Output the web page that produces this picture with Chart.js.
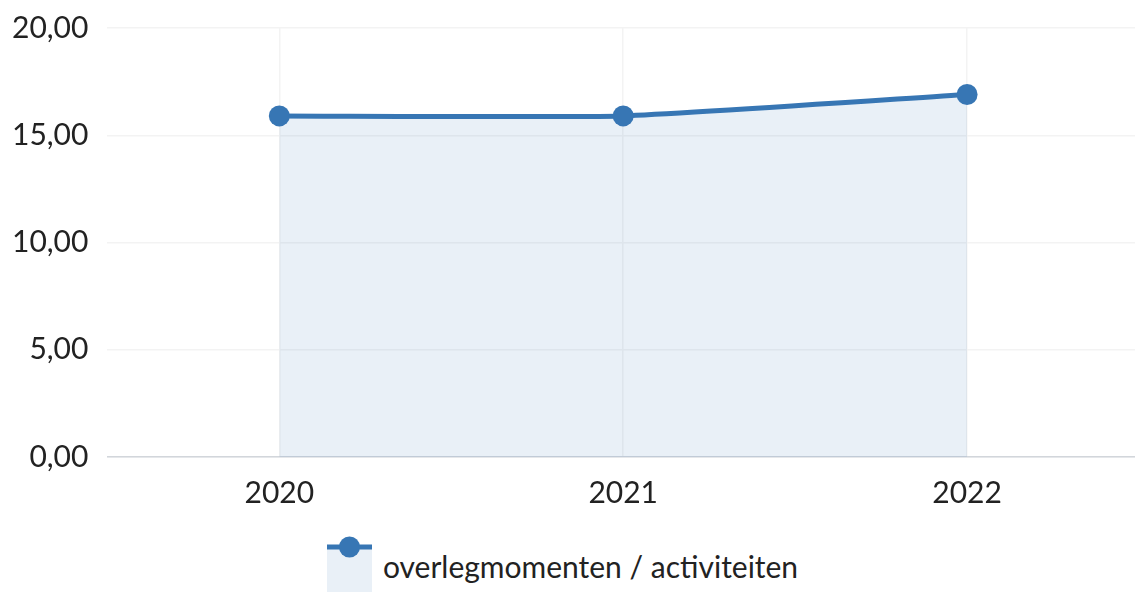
<!DOCTYPE html>
<html>
<head>
<meta charset="utf-8">
<script src="https://cdn.jsdelivr.net/npm/chart.js@4/dist/chart.umd.min.js"></script>
<style>
	html, body { margin: 0; padding: 0; background: #fff; overflow: hidden; }
	#pageContentContainer { width: 1135px; height: 592px; position: relative; overflow: hidden; }
	#chartContainer { width: 1139px; height: 515px; position: relative; }
	#legendContainer { display: flex; justify-content: center; width: 1125px; height: 77px; }
	.legendItem { display: flex; align-items: flex-start; margin-top: 21px; font-family: Lato, sans-serif; font-size: 30px; line-height: 36px; color: #222; }
	.legendBox { width: 45px; height: 56px; margin-right: 11px; }
	.legendText { margin-top: 12px; }
</style>
</head>
<body>
<div id="pageContentContainer">
	<div id="chartContainer">
		<canvas id="lineGraph"></canvas>
	</div>
	<div id="legendContainer"></div>
</div>
<script>
var years = ['2020', '2021', '2022']
var values = [15.9, 15.9, 16.9]
var seriesName = 'overlegmomenten / activiteiten'
var lineColor = 'rgb(55,118,180)'
var fillColor = 'rgba(55,118,180,0.11)'

const htmlLegendPlugin = {
	id: 'htmlLegend',
	afterUpdate(chart, args, options) {
		const container = document.getElementById(options.containerID);
		container.innerHTML = '';
		chart.options.plugins.legend.labels.generateLabels(chart).forEach(function(item){
			const ds = chart.data.datasets[item.datasetIndex];
			const li = document.createElement('div');
			li.className = 'legendItem';
			// marker: filled box with the line and point along its top edge
			const box = document.createElement('canvas');
			box.className = 'legendBox';
			box.width = 45;
			box.height = 56;
			const ctx = box.getContext('2d');
			ctx.fillStyle = ds.backgroundColor;
			ctx.fillRect(0, 11, 45, 45);
			ctx.fillStyle = ds.borderColor;
			ctx.fillRect(0, 8.5, 45, 5);
			ctx.beginPath();
			ctx.arc(22.5, 11, 10.5, 0, Math.PI * 2);
			ctx.fill();
			const text = document.createElement('span');
			text.className = 'legendText';
			text.innerText = item.text;
			li.appendChild(box);
			li.appendChild(text);
			container.appendChild(li);
		});
	}
};

const fontFamily = 'Lato, sans-serif';

// keep the scales from reserving extra room at the chart edges
function noEdgePadding(scale){
	scale.paddingTop = 0;
	scale.paddingBottom = 0;
	scale.paddingLeft = 0;
	scale.paddingRight = 0;
}

function drawLineGraph(){
	new Chart(document.getElementById('lineGraph'), {
		type: 'line',
		data: {
			labels: years,
			datasets: [{
				label: seriesName,
				data: values,
				borderColor: lineColor,
				backgroundColor: fillColor,
				borderWidth: 5,
				fill: 'origin',
				tension: 0.15,
				pointRadius: 10.5,
				pointBackgroundColor: lineColor,
				pointBorderWidth: 0
			}]
		},
		options: {
			responsive: true,
			maintainAspectRatio: false,
			animation: false,
			layout: { autoPadding: false, padding: { top: 28, left: 13, right: 0, bottom: 4 } },
			plugins: {
				legend: { display: false },
				tooltip: { enabled: false },
				htmlLegend: { containerID: 'legendContainer' }
			},
			scales: {
				x: {
					offset: true,
					afterFit: function(scale){
						noEdgePadding(scale);
						scale.height = 54;
					},
					grid: { offset: false, color: '#f3f3f3', lineWidth: 1.5, drawTicks: false },
					border: { color: '#d2d6db', width: 1.5 },
					ticks: { color: '#222', padding: 18, font: { family: fontFamily, size: 30 } }
				},
				y: {
					min: 0,
					max: 20,
					afterFit: function(scale){
						noEdgePadding(scale);
						scale.width -= 20;
					},
					grid: { color: '#f3f3f3', lineWidth: 1.5, drawTicks: false },
					border: { display: false },
					ticks: {
						stepSize: 5,
						color: '#222',
						padding: 19,
						font: { family: fontFamily, size: 30 },
						callback: function(value){ return value.toFixed(2).replace('.', ','); }
					}
				}
			}
		},
		plugins: [htmlLegendPlugin]
	});
}

document.fonts.load('30px Lato').then(drawLineGraph, drawLineGraph);
</script>
</body>
</html>
